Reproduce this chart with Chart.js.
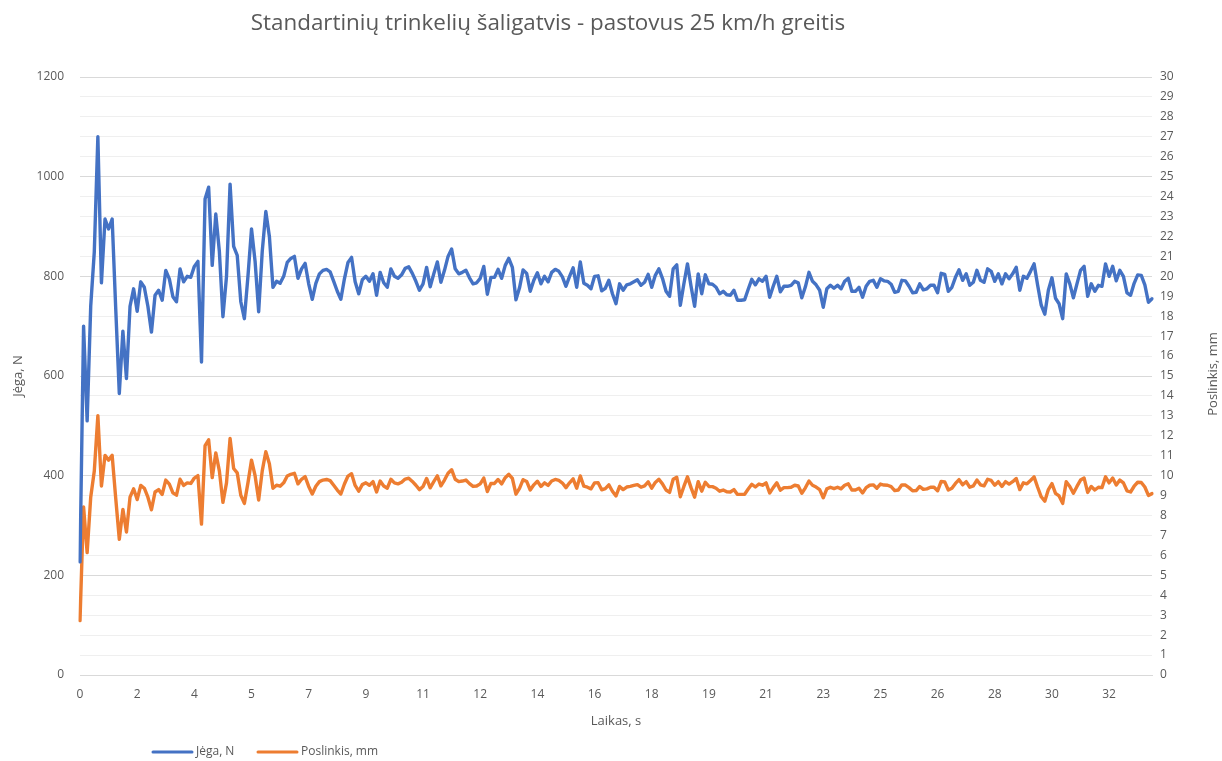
<!DOCTYPE html>
<html>
<head>
<meta charset="utf-8">
<script src="https://cdn.jsdelivr.net/npm/chart.js@4/dist/chart.umd.min.js"></script>
<style>
  html, body { margin: 0; padding: 0; background: #ffffff; }
  #wrap { width: 1222px; height: 761px; position: relative; }
  canvas { display: block; }
</style>
</head>
<body>
<div id="wrap"><canvas id="chart" width="1222" height="761"></canvas></div>
<script>
// Force (N), sampled at a fixed time step
const force = [
  227, 700, 510, 740, 849, 1080, 787, 915, 895, 915,
  735, 565, 690, 595, 740, 775, 730, 789, 778, 740,
  688, 762, 772, 752, 812, 795, 759, 749, 815, 789,
  800, 798, 820, 830, 628, 955, 979, 822, 925, 850,
  719, 800, 985, 860, 842, 749, 715, 800, 895, 830,
  729, 850, 930, 880, 778, 790, 786, 800, 828, 836,
  840, 796, 815, 826, 785, 754, 786, 805, 812, 814,
  809, 790, 770, 754, 795, 828, 838, 789, 765, 793,
  800, 790, 805, 762, 808, 787, 778, 815, 800, 796,
  803, 816, 819, 806, 790, 772, 785, 818, 779, 805,
  829, 788, 812, 840, 855, 815, 805, 808, 812, 797,
  785, 787, 796, 820, 764, 798, 798, 814, 796, 822,
  836, 818, 753, 777, 813, 806, 770, 792, 807, 785,
  800, 789, 808, 814, 810, 799, 780, 800, 817, 778,
  829, 786, 782, 775, 800, 801, 771, 776, 792, 765,
  745, 785, 772, 783, 785, 789, 793, 782, 788, 804,
  778, 802, 815, 796, 770, 760, 815, 823, 742, 785,
  825, 780, 740, 805, 765, 803, 785, 784, 778, 765,
  770, 763, 762, 772, 752, 752, 753, 774, 794, 783,
  795, 790, 800, 758, 780, 800, 769, 780, 780, 782,
  790, 787, 757, 779, 808, 790, 783, 772, 738, 775,
  782, 776, 782, 775, 790, 796, 770, 770, 778, 758,
  780, 790, 792, 778, 795, 791, 790, 784, 768, 770,
  792, 791, 780, 767, 768, 785, 773, 775, 782, 782,
  767, 806, 804, 770, 778, 798, 813, 792, 805, 782,
  788, 812, 792, 788, 815, 810, 790, 805, 785, 805,
  795, 805, 818, 772, 800, 796, 810, 825, 782, 742,
  724, 772, 797, 756, 745, 715, 805, 785, 757, 785,
  812, 820, 760, 785, 770, 782, 780, 825, 800, 820,
  791, 812, 800, 767, 762, 786, 803, 802, 783, 748,
  755
];

// Displacement (mm), same time base
const displacement = [
  2.73, 8.43, 6.14, 8.92, 10.23, 13.01, 9.48, 11.02, 10.78, 11.02,
  8.86, 6.81, 8.31, 7.17, 8.92, 9.34, 8.80, 9.51, 9.37, 8.92,
  8.29, 9.18, 9.30, 9.06, 9.78, 9.58, 9.14, 9.02, 9.82, 9.51,
  9.64, 9.61, 9.88, 10.00, 7.57, 11.51, 11.80, 9.90, 11.14, 10.24,
  8.66, 9.64, 11.87, 10.36, 10.14, 9.02, 8.61, 9.64, 10.78, 10.00,
  8.78, 10.24, 11.20, 10.60, 9.37, 9.52, 9.47, 9.64, 9.98, 10.07,
  10.12, 9.59, 9.82, 9.95, 9.46, 9.08, 9.47, 9.70, 9.78, 9.81,
  9.75, 9.52, 9.28, 9.08, 9.58, 9.98, 10.10, 9.51, 9.22, 9.55,
  9.64, 9.52, 9.70, 9.18, 9.73, 9.48, 9.37, 9.82, 9.64, 9.59,
  9.67, 9.83, 9.87, 9.71, 9.52, 9.30, 9.46, 9.86, 9.39, 9.70,
  9.99, 9.49, 9.78, 10.12, 10.30, 9.82, 9.70, 9.73, 9.78, 9.60,
  9.46, 9.48, 9.59, 9.88, 9.20, 9.61, 9.61, 9.81, 9.59, 9.90,
  10.07, 9.86, 9.07, 9.36, 9.80, 9.71, 9.28, 9.54, 9.72, 9.46,
  9.64, 9.51, 9.73, 9.81, 9.76, 9.63, 9.40, 9.64, 9.84, 9.37,
  9.99, 9.47, 9.42, 9.34, 9.64, 9.65, 9.29, 9.35, 9.54, 9.22,
  8.98, 9.46, 9.30, 9.43, 9.46, 9.51, 9.55, 9.42, 9.49, 9.69,
  9.37, 9.66, 9.82, 9.59, 9.28, 9.16, 9.82, 9.92, 8.94, 9.46,
  9.94, 9.40, 8.92, 9.70, 9.22, 9.67, 9.46, 9.45, 9.37, 9.22,
  9.28, 9.19, 9.18, 9.30, 9.06, 9.06, 9.07, 9.33, 9.57, 9.43,
  9.58, 9.52, 9.64, 9.13, 9.40, 9.64, 9.27, 9.40, 9.40, 9.42,
  9.52, 9.48, 9.12, 9.39, 9.73, 9.52, 9.43, 9.30, 8.89, 9.34,
  9.42, 9.35, 9.42, 9.34, 9.52, 9.59, 9.28, 9.28, 9.37, 9.13,
  9.40, 9.52, 9.54, 9.37, 9.58, 9.53, 9.52, 9.45, 9.25, 9.28,
  9.54, 9.53, 9.40, 9.24, 9.25, 9.46, 9.31, 9.34, 9.42, 9.42,
  9.24, 9.71, 9.69, 9.28, 9.37, 9.61, 9.80, 9.54, 9.70, 9.42,
  9.49, 9.78, 9.54, 9.49, 9.82, 9.76, 9.52, 9.70, 9.46, 9.70,
  9.58, 9.70, 9.86, 9.30, 9.64, 9.59, 9.76, 9.94, 9.42, 8.94,
  8.72, 9.30, 9.60, 9.11, 8.98, 8.61, 9.70, 9.46, 9.12, 9.46,
  9.78, 9.88, 9.16, 9.46, 9.28, 9.42, 9.40, 9.94, 9.64, 9.88,
  9.53, 9.78, 9.64, 9.24, 9.18, 9.47, 9.67, 9.66, 9.43, 9.01,
  9.10
];

// Time axis: one sample every 0.109375 s, a label every 16 samples (1.75 s)
const timeStep = 0.109375;
const samplesPerLabel = 16;
const categories = force.map((_, i) => (i * timeStep).toFixed(3));
const timeTickLabels = ['0', '2', '4', '5', '7', '9', '11', '12', '14', '16', '18', '19', '21', '23', '25', '26', '28', '30', '32'];

const forceTicks = [0, 200, 400, 600, 800, 1000, 1200];

const titleText = 'Standartinių trinkelių šaligatvis - pastovus 25 km/h greitis';
const seriesNames = ['Jėga, N', 'Poslinkis, mm'];
const seriesColors = ['#4472C4', '#ED7D31'];
const textColor = '#595959';
const fontFamily = '"Open Sans", "Liberation Sans", sans-serif';

// Chart title, right-hand axis title and bottom legend
const decorations = {
  id: 'decorations',
  afterDraw(chart) {
    const ctx = chart.ctx;
    ctx.save();
    ctx.fillStyle = textColor;
    ctx.textBaseline = 'middle';

    ctx.font = '22.4px ' + fontFamily;
    ctx.textAlign = 'center';
    ctx.fillText(titleText, 548, 24);

    // right axis title, reading bottom to top
    ctx.font = '13px ' + fontFamily;
    ctx.save();
    ctx.translate(1213, 374);
    ctx.rotate(-Math.PI / 2);
    ctx.fillText(seriesNames[1], 0, 0);
    ctx.restore();

    // legend
    ctx.font = '12px ' + fontFamily;
    ctx.textAlign = 'left';
    const items = [{ x: 153, name: seriesNames[0], color: seriesColors[0] },
                   { x: 258, name: seriesNames[1], color: seriesColors[1] }];
    items.forEach(it => {
      ctx.strokeStyle = it.color;
      ctx.lineWidth = 3;
      ctx.lineCap = 'round';
      ctx.beginPath();
      ctx.moveTo(it.x, 752);
      ctx.lineTo(it.x + 39, 752);
      ctx.stroke();
      ctx.fillText(it.name, it.x + 43, 752);
    });
    ctx.restore();
  }
};

Chart.defaults.font.family = fontFamily;
Chart.defaults.color = textColor;

new Chart(document.getElementById('chart'), {
  type: 'line',
  data: {
    labels: categories,
    datasets: [
      {
        label: seriesNames[0],
        data: force,
        yAxisID: 'yForce',
        borderColor: seriesColors[0],
        borderWidth: 3.4,
        pointRadius: 0,
        tension: 0,
        borderJoinStyle: 'round',
        borderCapStyle: 'round'
      },
      {
        label: seriesNames[1],
        data: displacement,
        yAxisID: 'yDisp',
        borderColor: seriesColors[1],
        borderWidth: 3.4,
        pointRadius: 0,
        tension: 0,
        borderJoinStyle: 'round',
        borderCapStyle: 'round'
      }
    ]
  },
  options: {
    responsive: false,
    animation: false,
    devicePixelRatio: 1,
    layout: { padding: { top: 77, left: 0, right: 0, bottom: 0 } },
    plugins: {
      legend: { display: false },
      title: { display: false },
      tooltip: { enabled: false }
    },
    scales: {
      x: {
        type: 'category',
        grid: { display: false, drawTicks: false },
        border: { display: true, color: '#d9d9d9', width: 1 },
        ticks: {
          autoSkip: false,
          maxRotation: 0,
          minRotation: 0,
          padding: 12,
          font: { size: 12 },
          color: textColor,
          callback: function (value, index) {
            return index % samplesPerLabel === 0 ? timeTickLabels[index / samplesPerLabel] : null;
          }
        },
        title: {
          display: true,
          text: 'Laikas, s',
          color: textColor,
          font: { size: 13 },
          padding: { top: 8, bottom: 32 }
        },
        afterFit: s => { s.height = 86; }
      },
      yForce: {
        type: 'linear',
        position: 'left',
        min: 0,
        max: 1200,
        afterBuildTicks: s => { s.ticks = forceTicks.map(v => ({ value: v })); },
        grid: { color: '#d9d9d9', drawTicks: false, z: -1 },
        border: { display: false },
        ticks: { padding: 16, font: { size: 12 }, color: textColor, callback: v => String(v) },
        title: {
          display: true,
          text: seriesNames[0],
          color: textColor,
          font: { size: 13 },
          padding: { top: 10, bottom: 0 }
        },
        afterFit: s => { s.width = 80; }
      },
      yDisp: {
        type: 'linear',
        position: 'right',
        min: 0,
        max: 30,
        grid: { color: '#efefef', drawTicks: false, drawOnChartArea: true, z: -2 },
        border: { display: false },
        ticks: { stepSize: 1, autoSkip: false, padding: 8, font: { size: 12 }, color: textColor },
        afterFit: s => { s.width = 70; }
      }
    }
  },
  plugins: [decorations]
});
</script>
</body>
</html>
